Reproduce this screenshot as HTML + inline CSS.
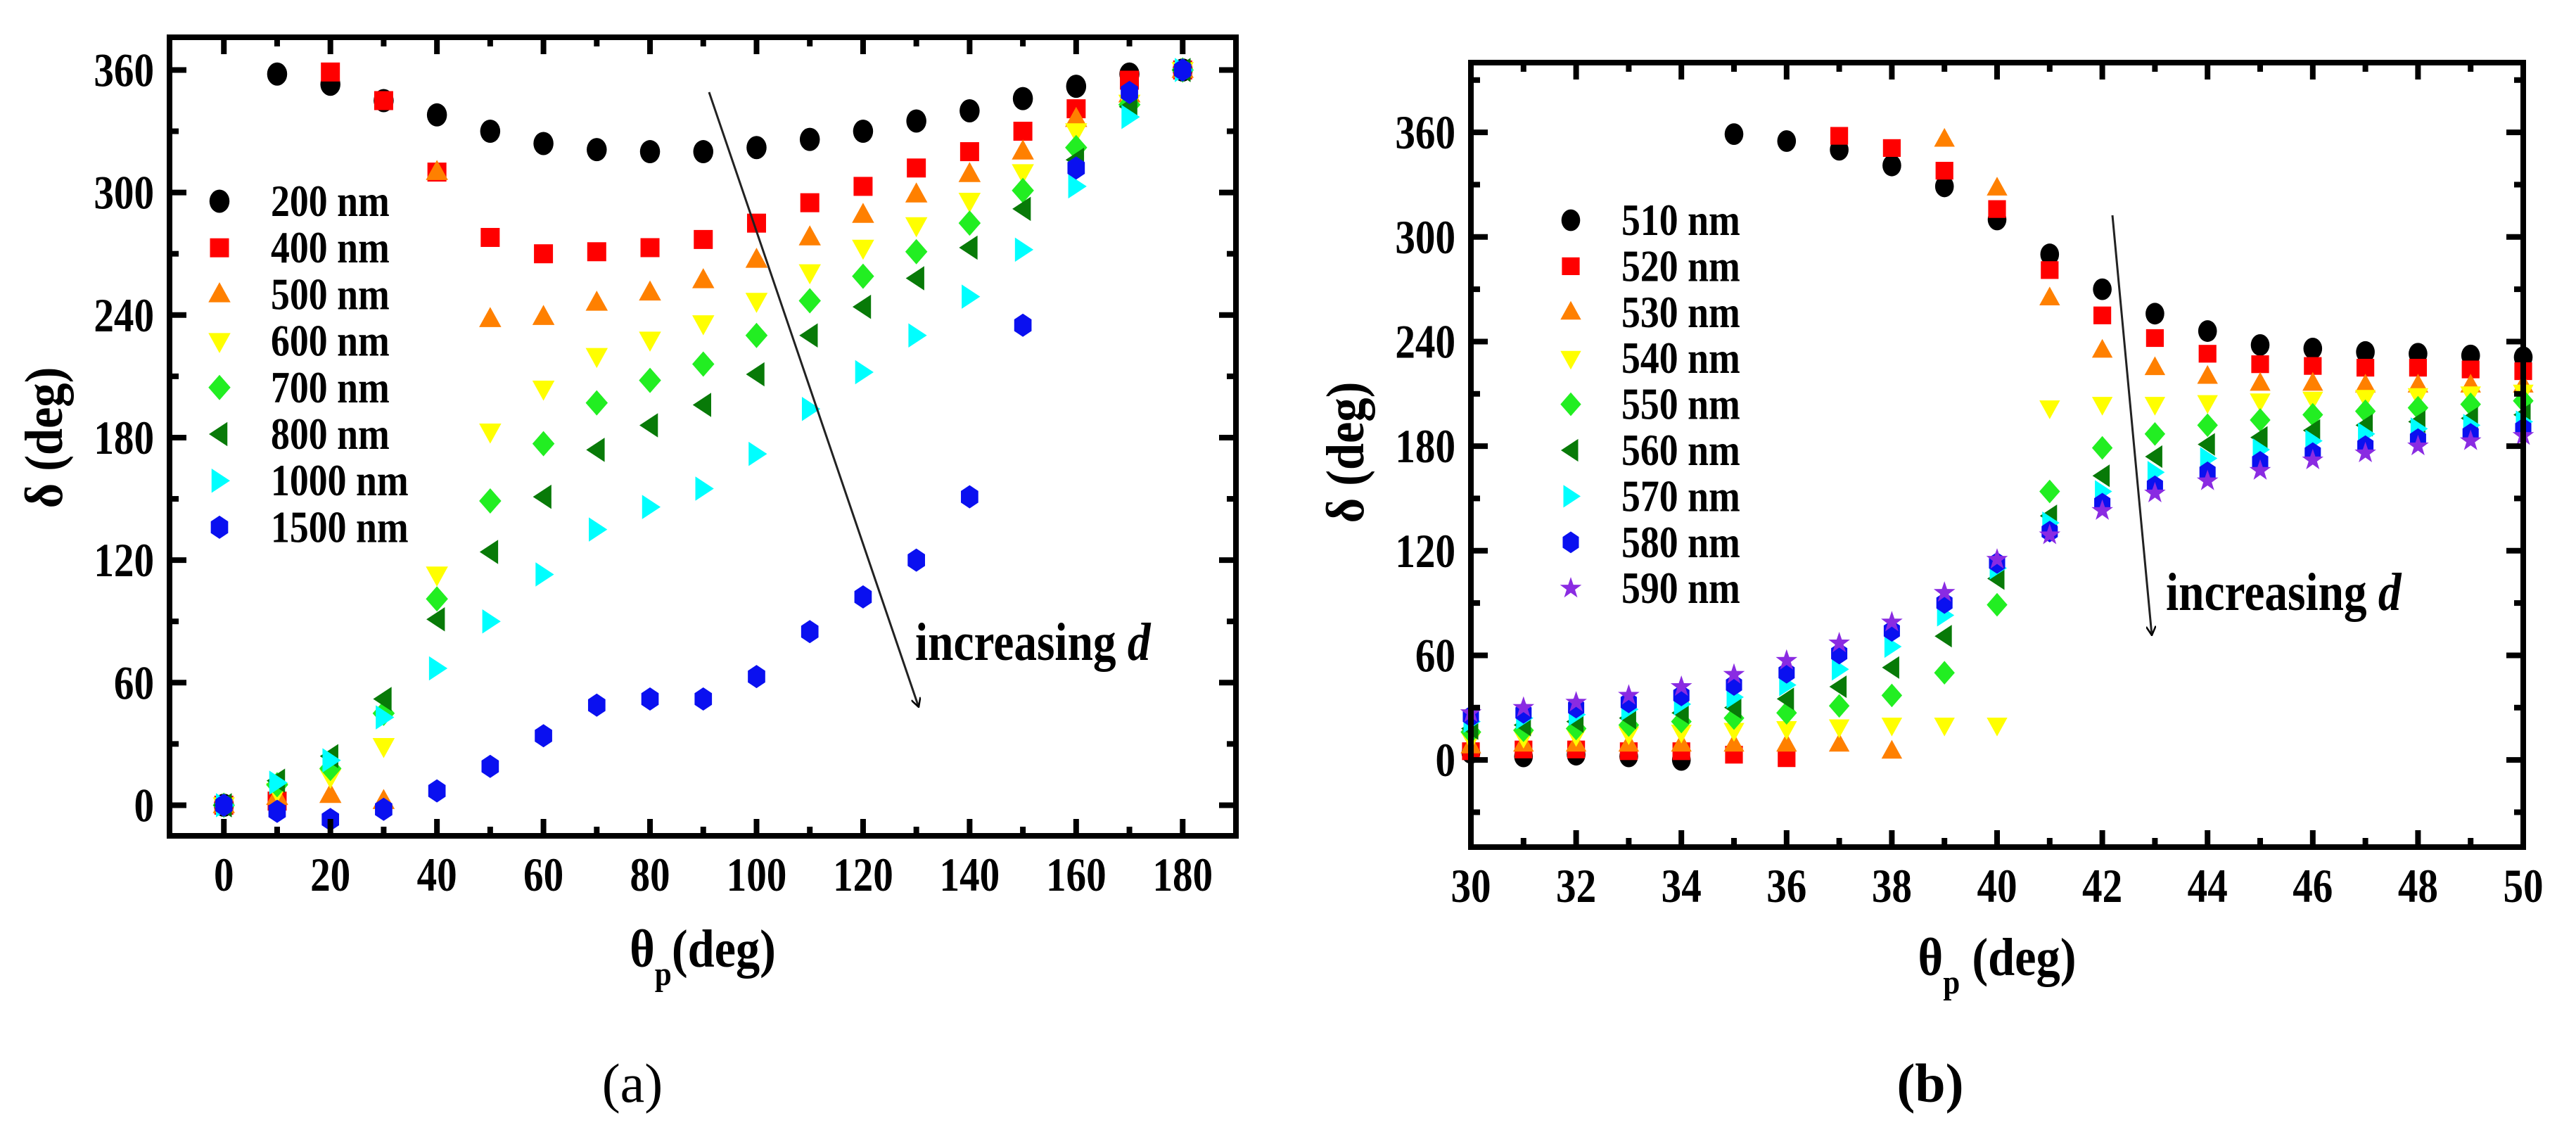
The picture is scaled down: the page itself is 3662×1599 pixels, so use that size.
<!DOCTYPE html>
<html><head><meta charset="utf-8"><style>
html,body{margin:0;padding:0;background:#fff;}
svg{display:block;}
text{font-family:"Liberation Serif",serif;}
</style></head><body>
<svg id="fig" xmlns="http://www.w3.org/2000/svg" width="3662" height="1599" viewBox="0 0 3662 1599">
<g id="pa"></g>
<g id="pb"></g>
</svg>
<script>
// Panel (a) data
const aThetas = [0,10,20,30,40,50,60,70,80,90,100,110,120,130,140,150,160,170,180];
const aNames = ["200 nm","400 nm","500 nm","600 nm","700 nm","800 nm","1000 nm","1500 nm"];
const a200 = [0,358,353,345,338,330,324,321,320,320,322,326,330,335,340,346,352,358,360];
const a400 = [0,2,359,345,310,278,270,271,273,277,285,295,303,312,320,330,341,355,360];
const a500 = [0,4,5,2,310,238,239,246,251,257,267,278,289,299,309,320,336,348,360];
const a600 = [0,7,14,29,113,183,204,220,228,236,247,261,273,284,296,310,330,344,360];
const a700 = [0,10,18,45,101,149,177,197,208,216,230,247,259,271,285,301,322,343,360];
const a800 = [0,12,24,52,91,124,151,174,186,196,211,230,244,258,273,292,316,342,360];
const a1000 = [0,11,22,43,67,90,113,135,146,155,172,194,212,230,249,272,303,337,360];
const a1500 = [0,-3,-7,-2,7,19,34,49,52,52,63,85,102,120,151,235,312,349,360];
const aXTicks = [0,20,40,60,80,100,120,140,160,180];
const aYTicks = [0,60,120,180,240,300,360];
// Panel (b) data
const bThetas = [30,31,32,33,34,35,36,37,38,39,40,41,42,43,44,45,46,47,48,49,50];
const bNames = ["510 nm","520 nm","530 nm","540 nm","550 nm","560 nm","570 nm","580 nm","590 nm"];
const b510 = [4,2,3,2,0,359,355,350,341,329,310,290,270,256,246,238,236,234,233,232,231];
const b520 = [5,6,6,5,5,3,1,358,351,338,316,281,255,242,233,227,226,225,225,224,223];
const b530 = [8,9,9,9,9,9,9,9,5,356,328,265,235,225,220,216,216,215,215,215,215];
const b540 = [12,13,14,15,16,17,18,19,20,20,20,202,204,204,205,206,207,208,209,210,211];
const b550 = [16,17,18,20,22,24,27,31,37,50,89,154,179,187,192,195,198,200,202,204,206];
const b560 = [18,20,22,24,27,30,35,42,53,71,104,140,163,174,181,185,189,192,194,196,198];
const b570 = [22,24,26,29,32,36,43,52,65,83,110,136,154,165,173,178,183,187,190,192,194];
const b580 = [25,27,30,33,37,43,50,61,74,90,113,131,147,157,165,171,176,180,184,187,190];
const b590 = [27,30,33,37,42,49,57,67,79,96,115,129,143,153,160,166,172,176,180,183,186];
const bXTicks = [30,32,34,36,38,40,42,44,46,48,50];
const bYTicks = [0,60,120,180,240,300,360];

const NS="http://www.w3.org/2000/svg";
const styles=[
 {shape:"circle",fill:"#000000"},{shape:"square",fill:"#ff0000"},{shape:"up",fill:"#ff8000"},
 {shape:"down",fill:"#ffff00"},{shape:"diamond",fill:"#22ee22"},{shape:"left",fill:"#087a08"},
 {shape:"right",fill:"#00ffff"},{shape:"hex",fill:"#0a10f0"},{shape:"star",fill:"#8a2be2"}];
function el(tag,attrs,parent){const e=document.createElementNS(NS,tag);for(const k in attrs)e.setAttribute(k,attrs[k]);parent.appendChild(e);return e;}
function stxt(g,x,y,str,size,anchor){
 const t=el("text",{transform:"translate("+x+","+y+") scale(0.84,1)","font-size":size,"font-weight":"bold","text-anchor":anchor},g);
 t.textContent=str;return t;
}
function marker(g,shape,cx,cy,r,fill){
 let e;
 if(shape==="circle"){e=el("ellipse",{cx:cx,cy:cy,rx:r*0.95,ry:r*1.1,fill:fill},g);}
 else if(shape==="square"){e=el("rect",{x:cx-r*0.9,y:cy-r*0.9,width:r*1.8,height:r*1.8,fill:fill},g);}
 else{
  let pts;
  if(shape==="up")pts=[[0,-1.15],[1.05,0.75],[-1.05,0.75]];
  else if(shape==="down")pts=[[0,1.15],[1.05,-0.75],[-1.05,-0.75]];
  else if(shape==="left")pts=[[-1.0,0],[0.75,-1.15],[0.75,1.15]];
  else if(shape==="right")pts=[[1.0,0],[-0.75,-1.15],[-0.75,1.15]];
  else if(shape==="diamond")pts=[[0,-1.2],[1.05,0],[0,1.2],[-1.05,0]];
  else if(shape==="hex"){pts=[];for(let i=0;i<6;i++){const a=Math.PI/3*i+Math.PI/2;pts.push([Math.cos(a)*0.95,Math.sin(a)*1.1]);}}
  else {pts=[];for(let i=0;i<10;i++){const a=Math.PI/5*i-Math.PI/2;const rr=i%2?0.45:1.15;pts.push([Math.cos(a)*rr,Math.sin(a)*rr]);}}
  e=el("polygon",{points:pts.map(p=>(cx+p[0]*r)+","+(cy+p[1]*r)).join(" "),fill:fill},g);
 }
 return e;
}
function panel(g,cfg){
 const X=v=>cfg.L+(v-cfg.xmin)/(cfg.xmax-cfg.xmin)*(cfg.R-cfg.L);
 const Y=v=>cfg.B-(v-cfg.ymin)/(cfg.ymax-cfg.ymin)*(cfg.B-cfg.T);
 cfg.series.forEach((s,i)=>{
  const sg=el("g",{},g);
  
  
  s.forEach((v,j)=>{const m=marker(sg,styles[i].shape,X(cfg.xs[j]),Y(v),cfg.r,styles[i].fill);
   
   });
 });
 const fr=el("rect",{x:cfg.L,y:cfg.T,width:cfg.R-cfg.L,height:cfg.B-cfg.T,fill:"none",stroke:"#000","stroke-width":8},g);
 
 
 const tg=el("g",{stroke:"#000","stroke-width":8},g);
 
 
 for(let v=cfg.xminor0;v<=cfg.xmax;v+=cfg.xminor){
  if(v<cfg.xmin)continue;
  const maj=cfg.xticks.includes(v);const l=maj?24:13;const x=X(v);
  el("line",{x1:x,y1:cfg.B,x2:x,y2:cfg.B-l},tg);el("line",{x1:x,y1:cfg.T,x2:x,y2:cfg.T+l},tg);
 }
 for(let v=cfg.yminor0;v<=cfg.ymax;v+=cfg.yminor){
  if(v<cfg.ymin)continue;
  const maj=cfg.yticks.includes(v);const l=maj?24:13;const y=Y(v);
  el("line",{x1:cfg.L,y1:y,x2:cfg.L+l,y2:y},tg);el("line",{x1:cfg.R,y1:y,x2:cfg.R-l,y2:y},tg);
 }
 cfg.xticks.forEach(v=>{const t=stxt(g,X(v),cfg.B+78,String(v),68,"middle");
  
  });
 cfg.yticks.forEach(v=>{const t=stxt(g,cfg.L-22,Y(v)+23,String(v),68,"end");
  
  });
 cfg.names.forEach((n,i)=>{const y=cfg.legY+i*cfg.legDy;
  const m=marker(g,styles[i].shape,cfg.legMX,y,cfg.r,styles[i].fill);
  
  
  const t=stxt(g,cfg.legTX,y+21,n,64,"start");
  
  });
}
const pa=document.getElementById('pa'),pb=document.getElementById('pb');
panel(pa,{L:241,R:1757,T:53,B:1188,xmin:-10.2,xmax:190,ymin:-15,ymax:376,xs:aThetas,
 series:[a200,a400,a500,a600,a700,a800,a1000,a1500],names:aNames,xticks:aXTicks,yticks:aYTicks,
 xminor0:0,xminor:10,yminor0:-30,yminor:30,r:15,legMX:312,legTX:385,legY:286,legDy:66.2});
panel(pb,{L:2091,R:3587,T:89,B:1204,xmin:30,xmax:50,ymin:-50,ymax:400,xs:bThetas,
 series:[b510,b520,b530,b540,b550,b560,b570,b580,b590],names:bNames,xticks:bXTicks,yticks:bYTicks,
 xminor0:30,xminor:1,yminor0:-30,yminor:30,r:14,legMX:2233,legTX:2305,legY:313,legDy:65.4});
</script>
<svg style="position:absolute;left:0;top:0" width="3662" height="1599" xmlns="http://www.w3.org/2000/svg">
<defs><marker id="ah" markerWidth="14" markerHeight="14" refX="13" refY="7" orient="auto" markerUnits="userSpaceOnUse"><path d="M0,0 L13,7 L0,14" fill="none" stroke="#000" stroke-width="2.5"/></marker></defs>
<line x1="1008" y1="131" x2="1306" y2="1005" stroke="#222" stroke-width="3" marker-end="url(#ah)"/>
<text transform="translate(1301,938) scale(0.86,1)" font-family="Liberation Serif, serif" font-size="76" font-weight="bold">increasing <tspan font-style="italic">d</tspan></text>
<line x1="3003" y1="306" x2="3059" y2="903" stroke="#222" stroke-width="3" marker-end="url(#ah)"/>
<text transform="translate(3079,867) scale(0.86,1)" font-family="Liberation Serif, serif" font-size="76" font-weight="bold">increasing <tspan font-style="italic">d</tspan></text>
<text transform="translate(88,622) rotate(-90) scale(0.9,1)" text-anchor="middle" font-family="Liberation Serif, serif" font-size="76" font-weight="bold">δ (deg)</text>
<text transform="translate(999,1374) scale(0.9,1)" text-anchor="middle" font-family="Liberation Serif, serif" font-size="76" font-weight="bold">θ<tspan font-size="48" dy="26">p</tspan><tspan dy="-26">(deg)</tspan></text>
<text x="899" y="1566" text-anchor="middle" font-family="Liberation Serif, serif" font-size="78">(a)</text>
<text transform="translate(1938,643) rotate(-90) scale(0.9,1)" text-anchor="middle" font-family="Liberation Serif, serif" font-size="76" font-weight="bold">δ (deg)</text>
<text transform="translate(2839,1386) scale(0.9,1)" text-anchor="middle" font-family="Liberation Serif, serif" font-size="76" font-weight="bold">θ<tspan font-size="48" dy="26">p</tspan><tspan dy="-26"> (deg)</tspan></text>
<text x="2744" y="1566" text-anchor="middle" font-family="Liberation Serif, serif" font-size="78" font-weight="bold">(b)</text>
</svg>
</body></html>
